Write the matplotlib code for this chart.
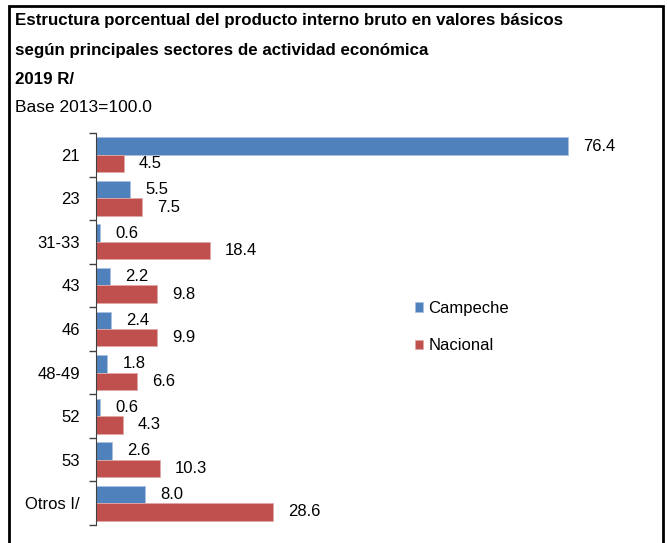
import matplotlib.pyplot as plt
import numpy as np
from matplotlib.patches import Rectangle

plt.rcParams['font.family'] = ['Liberation Sans', 'DejaVu Sans']

sectores = ["21", "23", "31-33", "43", "46", "48-49", "52", "53", "Otros I/"]
campeche = [76.4, 5.5, 0.6, 2.2, 2.4, 1.8, 0.6, 2.6, 8.0]
nacional = [4.5, 7.5, 18.4, 9.8, 9.9, 6.6, 4.3, 10.3, 28.6]

azul = "#4F81BD"
rojo = "#C0504D"

fig = plt.figure(figsize=(6.68, 5.43), dpi=100)
ax = fig.add_axes([96 / 668, 1 - 525 / 543, (650 - 96) / 668, (525 - 133) / 543])

y = np.arange(len(sectores))
h = 0.4
b1 = ax.barh(y - h / 2, campeche, height=h, color=azul, edgecolor="#a9c0e0", linewidth=0.6, label="Campeche")
b2 = ax.barh(y + h / 2, nacional, height=h, color=rojo, edgecolor="#e0a9a8", linewidth=0.6, label="Nacional")

for bars, vals in [(b1, campeche), (b2, nacional)]:
    ax.bar_label(bars, labels=[f"{v:.1f}" for v in vals], padding=11, fontsize=12)

ax.set_ylim(len(sectores) - 0.5, -0.5)
ax.set_xlim(0, (650 - 96) / ((568 - 96) / 76.4))

ax.set_yticks(y)
ax.set_yticklabels(sectores, fontsize=12)
ax.tick_params(axis="y", which="major", length=0, pad=11.5)
ax.set_yticks(np.arange(len(sectores) + 1) - 0.5, minor=True)
ax.tick_params(axis="y", which="minor", length=5, width=1, direction="out", color="#404040")
ax.set_xticks([])
for s in ["top", "right", "bottom"]:
    ax.spines[s].set_visible(False)
ax.spines["left"].set_color("#404040")

fig.legend(handles=[b1, b2], loc="upper left", bbox_to_anchor=(400 / 668, 1 - 286 / 543),
           frameon=False, fontsize=12, handlelength=0.5, handleheight=0.5,
           handletextpad=0.3, labelspacing=1.35)

fig.text(15 / 668, 1 - 20 / 543, "Estructura porcentual del producto interno bruto en valores básicos",
         fontsize=12.2, fontweight="bold", va="center")
fig.text(15 / 668, 1 - 50 / 543, "según principales sectores de actividad económica",
         fontsize=12.2, fontweight="bold", va="center")
fig.text(15 / 668, 1 - 79 / 543, "2019 R/", fontsize=12.2, fontweight="bold", va="center")
fig.text(15 / 668, 1 - 107 / 543, "Base 2013=100.0", fontsize=12.5, va="center")

fig.patches.append(Rectangle((9 / 668, -0.05), (663 - 9) / 668, 1.05 - 6 / 543,
                             transform=fig.transFigure, fill=False, edgecolor="black", linewidth=2))

fig.savefig("out.png", dpi=100)
